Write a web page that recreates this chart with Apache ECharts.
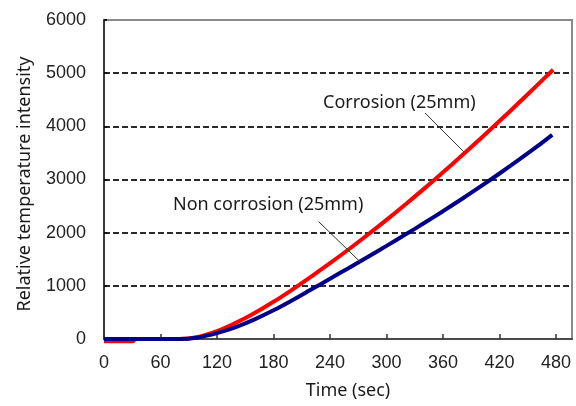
<!DOCTYPE html>
<html>
<head>
<meta charset="utf-8">
<script src="https://cdn.jsdelivr.net/npm/echarts@6/dist/echarts.min.js"></script>
<style>
html,body{margin:0;padding:0;background:#fff;}
#c{width:576px;height:406px;}
</style>
</head>
<body>
<div id="c"></div>
<script>
// Data (time in sec, relative temperature intensity)
var corrosionT = [0, 31, 33, 80, 100, 120, 140, 160, 180, 200, 220, 240, 260, 280, 300, 320, 340, 360, 380, 400, 420, 440, 460, 477];
var corrosionV = [-40, -40, 0, 0, 40, 150, 305, 490, 700, 930, 1174, 1426, 1688, 1960, 2240, 2530, 2828, 3136, 3450, 3771, 4099, 4434, 4775, 5065];
var nonCorrosionT = [0, 80, 100, 120, 140, 160, 180, 200, 220, 240, 260, 280, 300, 320, 340, 360, 380, 400, 420, 440, 460, 476];
var nonCorrosionV = [0, 0, 30, 110, 225, 370, 540, 730, 931, 1133, 1337, 1543, 1752, 1964, 2181, 2404, 2633, 2869, 3113, 3364, 3622, 3840];
var xTicks = [0, 60, 120, 180, 240, 300, 360, 420, 480];
var yTicks = [0, 1000, 2000, 3000, 4000, 5000, 6000];
var seriesNames = ['Corrosion (25mm)', 'Non corrosion (25mm)'];
// annotation leader lines in data units: [t1, v1, t2, v2]
var corrosionLeader = [341, 4250, 382, 3523];
var nonCorrosionLeader = [228, 2206, 273, 1435];

function pairs(t, v) { return t.map(function (x, i) { return [x, v[i]]; }); }

var chart = echarts.init(document.getElementById('c'), null, {renderer: 'canvas'});
var labelFont = 'Liberation Sans';
chart.setOption({
  animation: false,
  backgroundColor: '#ffffff',
  grid: {left: 104, right: 4, top: 20, bottom: 67, show: true, borderColor: '#8a8a8a', borderWidth: 2, backgroundColor: 'transparent'},
  xAxis: {
    type: 'value', min: xTicks[0], max: 497, interval: 60,
    axisLine: {show: true, lineStyle: {color: '#4a4a4a', width: 2}},
    axisTick: {show: true, inside: true, length: 5, lineStyle: {color: '#333', width: 1.5}},
    axisLabel: {showMaxLabel: false, margin: 15, color: '#222', fontFamily: labelFont, fontSize: 18,
      formatter: function (v) { return xTicks.indexOf(v) >= 0 ? String(v) : ''; }},
    splitLine: {show: false}
  },
  yAxis: {
    type: 'value', min: yTicks[0], max: yTicks[yTicks.length - 1], interval: 1000,
    axisLine: {show: true, lineStyle: {color: '#3a3a3a', width: 2}},
    axisTick: {show: true, inside: true, length: 3, lineStyle: {color: '#111', width: 2}},
    axisLabel: {margin: 18, color: '#222', fontFamily: labelFont, fontSize: 18,
      formatter: function (v) { return String(v); }},
    splitLine: {show: true, showMinLine: false, showMaxLine: false, lineStyle: {color: '#2a2a2a', width: 2, type: [6, 3]}}
  },
  series: [
    {
      name: seriesNames[0], type: 'line', data: pairs(corrosionT, corrosionV),
      showSymbol: false, smooth: 0.4, clip: false,
      lineStyle: {color: '#ff0000', width: 4}, z: 3,
      markLine: {silent: true, symbol: 'none', label: {show: false},
        lineStyle: {color: '#333', width: 1, type: 'solid'},
        data: [[{coord: [corrosionLeader[0], corrosionLeader[1]]}, {coord: [corrosionLeader[2], corrosionLeader[3]]}]]}
    },
    {
      name: seriesNames[1], type: 'line', data: pairs(nonCorrosionT, nonCorrosionV),
      showSymbol: false, smooth: 0.4, clip: false,
      lineStyle: {color: '#000088', width: 4}, z: 4,
      markLine: {silent: true, symbol: 'none', label: {show: false},
        lineStyle: {color: '#333', width: 1, type: 'solid'},
        data: [[{coord: [nonCorrosionLeader[0], nonCorrosionLeader[1]]}, {coord: [nonCorrosionLeader[2], nonCorrosionLeader[3]]}]]}
    }
  ],
  graphic: [
    {type: 'text', x: 323, y: 103, style: {text: seriesNames[0], font: '18px "Noto Sans"', fill: '#1a1a1a', verticalAlign: 'middle'}},
    {type: 'text', x: 173, y: 205, style: {text: seriesNames[1], font: '18px "Noto Sans"', fill: '#1a1a1a', verticalAlign: 'middle'}},
    {type: 'text', x: 348, y: 391, style: {text: 'Time (sec)', font: '18px "Noto Sans"', fill: '#1a1a1a', align: 'center', verticalAlign: 'middle'}},
    {type: 'text', x: 25, y: 184, rotation: Math.PI / 2, style: {text: 'Relative temperature intensity', font: '18px "Noto Sans"', fill: '#1a1a1a', align: 'center', verticalAlign: 'middle'}}
  ]
});
</script>
</body>
</html>
